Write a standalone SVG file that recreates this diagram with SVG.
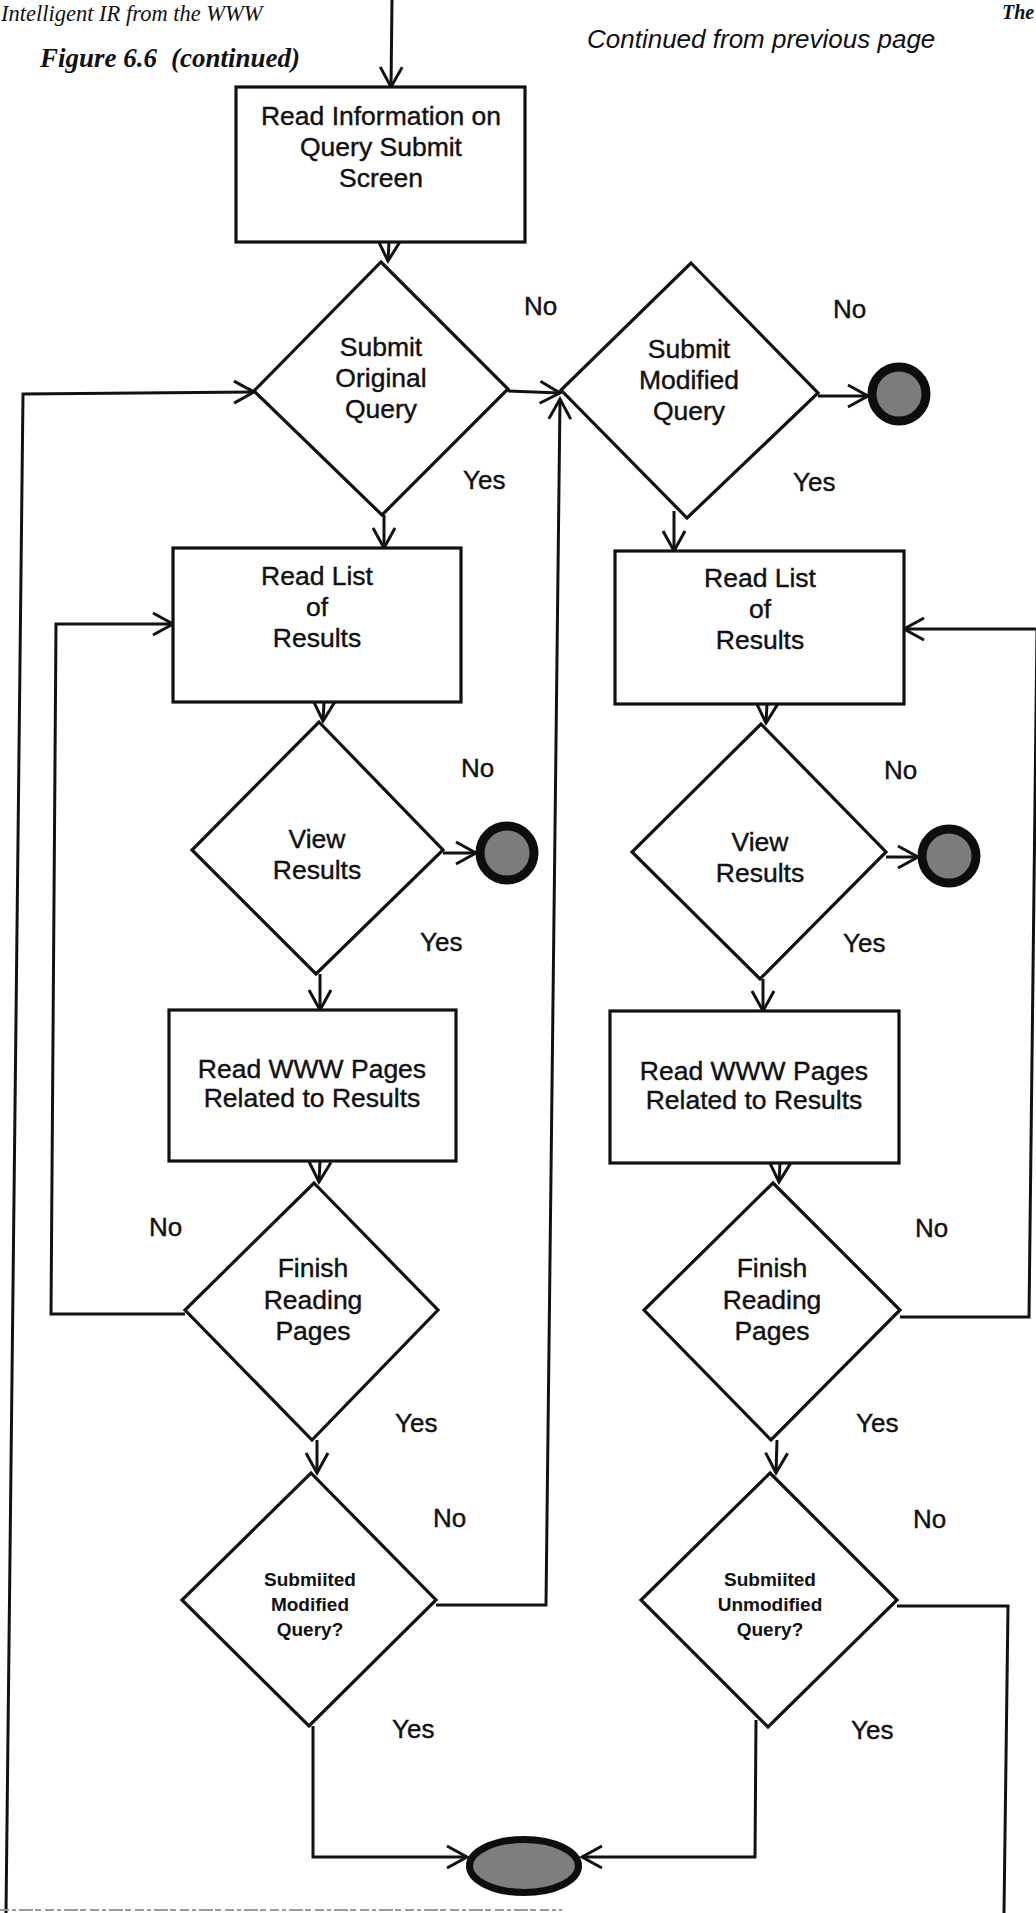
<svg xmlns="http://www.w3.org/2000/svg" width="1036" height="1913" viewBox="0 0 1036 1913">
  <defs>
    <style>
      .box { fill: #fff; stroke: #111; stroke-width: 3.2; }
      .dia { fill: #fff; stroke: #111; stroke-width: 3.2; stroke-linejoin: miter; }
      .term { fill: #7c7c7c; stroke: #0d0d0d; stroke-width: 9; }
      .term-end { fill: #7e7e7e; stroke: #0d0d0d; stroke-width: 7; }
      .t { font-family: "Liberation Sans", Arial, sans-serif; font-size: 26.5px; fill: #111; stroke: #111; stroke-width: 0.4; text-anchor: middle; }
      .ts { font-family: "Liberation Sans", Arial, sans-serif; font-size: 19px; font-weight: bold; fill: #111; text-anchor: middle; }
      .yn { font-family: "Liberation Sans", Arial, sans-serif; font-size: 26px; fill: #111; stroke: #111; stroke-width: 0.4; }
      .conn path { fill: none; stroke: #111; stroke-width: 3; stroke-linejoin: miter; }
      .arr { marker-end: url(#arrow); }
      .hdr-serif { font-family: "Liberation Serif", "Times New Roman", serif; font-style: italic; fill: #111; }
      .hdr-sans { font-family: "Liberation Sans", Arial, sans-serif; font-style: italic; font-size: 26px; fill: #111; }
    </style>
    <marker id="arrow" markerUnits="userSpaceOnUse" markerWidth="30" markerHeight="30" refX="0" refY="0" viewBox="-24 -15 30 30" orient="auto">
      <path d="M-20,-11 L0,0 L-20,11" fill="none" stroke="#111" stroke-width="3"/>
    </marker>
  </defs>

  <!-- page header -->
  <g id="header">
    <text class="hdr-serif" x="1" y="21" font-size="22.5">Intelligent IR from the WWW</text>
    <text class="hdr-serif" x="40" y="67" font-size="27" font-weight="bold">Figure 6.6<tspan dx="14">(continued)</tspan></text>
    <text class="hdr-sans" x="587" y="48">Continued from previous page</text>
    <text class="hdr-serif" x="1002" y="19" font-size="20" font-weight="bold">The</text>
  </g>

  <!-- connectors -->
  <g id="connectors" class="conn">
    <path class="arr" d="M392,0 L391,87"/>
    <path class="arr" d="M389,242 L388,261"/>
    <path class="arr" d="M384,515 L384,548"/>
    <path class="arr" d="M508,391 L560,393"/>
    <path class="arr" d="M818,396 L868,396"/>
    <path class="arr" d="M674,511 L674,551"/>
    <path class="arr" d="M324,702 L323,721"/>
    <path class="arr" d="M443,853 L476,853"/>
    <path class="arr" d="M320,974 L320,1010"/>
    <path class="arr" d="M767,704 L766,723"/>
    <path class="arr" d="M886,857 L918,857"/>
    <path class="arr" d="M763,979 L763,1011"/>
    <path class="arr" d="M320,1161 L319,1182"/>
    <path class="arr" d="M317,1440 L317,1473"/>
    <path class="arr" d="M780,1163 L779,1182"/>
    <path class="arr" d="M777,1440 L776,1473"/>
    <!-- "No" loops back to the result lists -->
    <path class="arr" d="M185,1314 L51,1314 L56,624 L173,624"/>
    <path class="arr" d="M900,1317 L1029,1317 L1037,629 L904,629"/>
    <!-- loop from the next page into Submit Original Query -->
    <path class="arr" d="M6,1913 L23,394 L254,392"/>
    <!-- Submitted Modified Query? : No -->
    <path class="arr" d="M436,1605 L546,1605 L560,399"/>
    <!-- Yes branches to the end state -->
    <path class="arr" d="M313,1726 L313,1857 L467,1857"/>
    <path class="arr" d="M756,1720 L755,1857 L582,1857"/>
    <!-- Submitted Unmodified Query? : No, continues below -->
    <path d="M897,1606 L1008,1606 L1004,1913"/>
  </g>

  <g id="read-info">
    <rect class="box" x="236" y="87" width="289" height="155"/>
    <text class="t" x="381" y="125">Read Information on</text>
    <text class="t" x="381" y="156">Query Submit</text>
    <text class="t" x="381" y="187">Screen</text>
  </g>

  <g id="submit-original">
    <polygon class="dia" points="381,262 508,389 382,515 254,391"/>
    <text class="t" x="381" y="356">Submit</text>
    <text class="t" x="381" y="387">Original</text>
    <text class="t" x="381" y="418">Query</text>
  </g>

  <g id="submit-modified">
    <polygon class="dia" points="691,263 818,393 687,518 561,390"/>
    <text class="t" x="689" y="358">Submit</text>
    <text class="t" x="689" y="389">Modified</text>
    <text class="t" x="689" y="420">Query</text>
  </g>

  <g id="end-top">
    <circle class="term" cx="899" cy="394" r="27"/>
  </g>

  <g id="read-list-left">
    <rect class="box" x="173" y="548" width="288" height="154"/>
    <text class="t" x="317" y="585">Read List</text>
    <text class="t" x="317" y="616">of</text>
    <text class="t" x="317" y="647">Results</text>
  </g>

  <g id="read-list-right">
    <rect class="box" x="615" y="551" width="289" height="153"/>
    <text class="t" x="760" y="587">Read List</text>
    <text class="t" x="760" y="618">of</text>
    <text class="t" x="760" y="649">Results</text>
  </g>

  <g id="view-left">
    <polygon class="dia" points="319,722 443,850 316,974 192,850"/>
    <text class="t" x="317" y="848">View</text>
    <text class="t" x="317" y="879">Results</text>
  </g>

  <g id="view-right">
    <polygon class="dia" points="761,724 886,852 760,979 632,852"/>
    <text class="t" x="760" y="851">View</text>
    <text class="t" x="760" y="882">Results</text>
  </g>

  <g id="end-view-left">
    <circle class="term" cx="507" cy="853" r="27"/>
  </g>
  <g id="end-view-right">
    <circle class="term" cx="949" cy="856" r="27"/>
  </g>

  <g id="read-pages-left">
    <rect class="box" x="169" y="1010" width="287" height="151"/>
    <text class="t" x="312" y="1078">Read WWW Pages</text>
    <text class="t" x="312" y="1107">Related to Results</text>
  </g>

  <g id="read-pages-right">
    <rect class="box" x="610" y="1011" width="289" height="152"/>
    <text class="t" x="754" y="1080">Read WWW Pages</text>
    <text class="t" x="754" y="1109">Related to Results</text>
  </g>

  <g id="finish-left">
    <polygon class="dia" points="314,1183 438,1310 312,1440 185,1310"/>
    <text class="t" x="313" y="1277">Finish</text>
    <text class="t" x="313" y="1309">Reading</text>
    <text class="t" x="313" y="1340">Pages</text>
  </g>

  <g id="finish-right">
    <polygon class="dia" points="773,1183 900,1310 771,1440 644,1310"/>
    <text class="t" x="772" y="1277">Finish</text>
    <text class="t" x="772" y="1309">Reading</text>
    <text class="t" x="772" y="1340">Pages</text>
  </g>

  <g id="submitted-modified">
    <polygon class="dia" points="311,1473 436,1600 309,1726 182,1600"/>
    <text class="ts" x="310" y="1586">Submiited</text>
    <text class="ts" x="310" y="1611">Modified</text>
    <text class="ts" x="310" y="1636">Query?</text>
  </g>

  <g id="submitted-unmodified">
    <polygon class="dia" points="770,1473 897,1600 768,1727 641,1600"/>
    <text class="ts" x="770" y="1586">Submiited</text>
    <text class="ts" x="770" y="1611">Unmodified</text>
    <text class="ts" x="770" y="1636">Query?</text>
  </g>

  <g id="end-final">
    <ellipse class="term-end" cx="524" cy="1866" rx="54.5" ry="26.5"/>
  </g>

  <!-- branch labels -->
  <g id="branch-labels" class="yn">
    <text x="524" y="315">No</text>
    <text x="463" y="489">Yes</text>
    <text x="833" y="318">No</text>
    <text x="793" y="491">Yes</text>
    <text x="461" y="777">No</text>
    <text x="420" y="951">Yes</text>
    <text x="884" y="779">No</text>
    <text x="843" y="952">Yes</text>
    <text x="149" y="1236">No</text>
    <text x="395" y="1432">Yes</text>
    <text x="915" y="1237">No</text>
    <text x="856" y="1432">Yes</text>
    <text x="433" y="1527">No</text>
    <text x="392" y="1738">Yes</text>
    <text x="913" y="1528">No</text>
    <text x="851" y="1739">Yes</text>
  </g>

  <!-- faint page edge along the bottom -->
  <path d="M0,1910 L562,1910" fill="none" stroke="#9a9a9a" stroke-width="2" stroke-dasharray="9 3 4 3 14 2 6 4"/>
</svg>
